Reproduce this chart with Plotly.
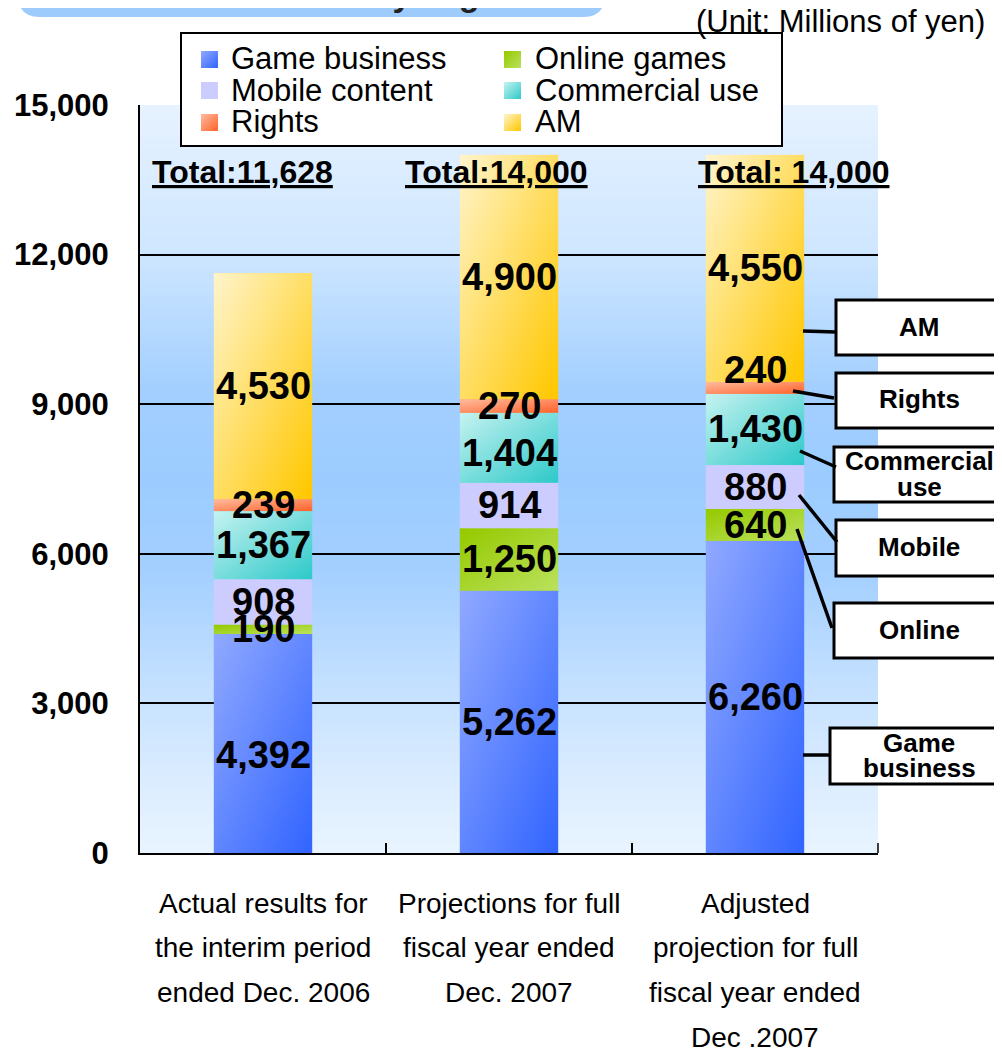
import base64
import struct
import zlib

import plotly.graph_objects as go

# ---------------- data ----------------
categories = [
    "Actual results for<br>the interim period<br>ended Dec. 2006",
    "Projections for full<br>fiscal year ended<br>Dec. 2007",
    "Adjusted<br>projection for full<br>fiscal year ended<br>Dec .2007",
]
segments = ["Game business", "Online games", "Mobile content",
            "Commercial use", "Rights", "AM"]
game_business = [4392, 5262, 6260]
online_games = [190, 1250, 640]
mobile_content = [908, 914, 880]
commercial_use = [1367, 1404, 1430]
rights = [239, 270, 240]
am = [4530, 4900, 4550]
total_labels = ["Total:11,628", "Total:14,000", "Total: 14,000"]
y_ticks = [0, 3000, 6000, 9000, 12000, 15000]
callout_lines = [["AM"], ["Rights"], ["Commercial", "use"], ["Mobile"],
                 ["Online"], ["Game", "business"]]

series_values = [game_business, online_games, mobile_content,
                 commercial_use, rights, am]
colors = ["#6688FF", "#A8D430", "#CCCCFF", "#74D8D6", "#FF8D66", "#FFDF80"]
# gradient end colours (light top-left -> dark bottom-right)
grad = [((143, 168, 255), (51, 102, 255)),
        ((150, 202, 0), (186, 225, 92)),
        ((204, 204, 255), (204, 204, 255)),
        ((195, 242, 240), (48, 202, 202)),
        ((255, 186, 156), (255, 100, 45)),
        ((255, 244, 200), (255, 200, 0))]

# ---------------- geometry helpers (page pixels) ----------------
OFF = 8                      # page body margin
W, H = 1002 - OFF, 1051 - OFF
L, R, T, B = 140, 878, 105, 853
BAR_W = 0.4


def px(xp):
    return (xp - L) / (R - L)


def py(yp):
    return (B - yp) / (B - T)


def make_png(w, h, fn):
    raw = b""
    for yy in range(h):
        raw += b"\x00"
        for xx in range(w):
            raw += bytes(fn(xx, yy))

    def chunk(tag, data):
        return (struct.pack(">I", len(data)) + tag + data +
                struct.pack(">I", zlib.crc32(tag + data) & 0xFFFFFFFF))

    png = (b"\x89PNG\r\n\x1a\n" +
           chunk(b"IHDR", struct.pack(">IIBBBBB", w, h, 8, 2, 0, 0, 0)) +
           chunk(b"IDAT", zlib.compress(raw)) + chunk(b"IEND", b""))
    return "data:image/png;base64," + base64.b64encode(png).decode()


def lerp(c0, c1, f):
    return [round(c0[k] + (c1[k] - c0[k]) * f) for k in range(3)]


def vertical_png(stops, n=300):
    def fn(xx, yy):
        t = yy / (n - 1)
        for j in range(len(stops) - 1):
            t0, c0 = stops[j]
            t1, c1 = stops[j + 1]
            if t0 <= t <= t1:
                return lerp(c0, c1, 0 if t1 == t0 else (t - t0) / (t1 - t0))
        return stops[-1][1]
    return make_png(2, n, fn)


def diagonal_png(c0, c1, n=24):
    return make_png(n, n, lambda xx, yy: lerp(c0, c1, (xx + yy) / (2 * (n - 1))))


bg_stops = [
    (0.00, (230, 242, 255)),
    (0.20, (206, 230, 255)),
    (0.38, (163, 207, 255)),
    (0.50, (156, 204, 255)),
    (0.62, (163, 207, 255)),
    (0.80, (201, 227, 255)),
    (0.92, (222, 238, 255)),
    (1.00, (232, 244, 255)),
]

FONT = "Liberation Sans, Arial, sans-serif"

fig = go.Figure()
for name, vals, col in zip(segments, series_values, colors):
    fig.add_bar(
        x=categories, y=vals, name=name,
        marker=dict(color=col, line=dict(width=0)),
        hoverinfo="name+y", showlegend=False,
    )

shapes = []
annotations = []
images = [dict(source=vertical_png(bg_stops), xref="paper", yref="paper",
               x=0, y=1, sizex=1, sizey=1, sizing="stretch",
               xanchor="left", yanchor="top", layer="below")]
grad_src = [diagonal_png(a, b) for a, b in grad]

# gradient skin on each stacked segment + value labels on top
label_shift = {(0, 0): -12, (2, 4): 18, (1, 3): -5}
base = [0, 0, 0]
for s, vals in enumerate(series_values):
    for i, v in enumerate(vals):
        images.append(dict(source=grad_src[s], xref="x", yref="y",
                           x=i - BAR_W / 2, y=base[i] + v, sizex=BAR_W,
                           sizey=v, sizing="stretch", xanchor="left",
                           yanchor="top", layer="above"))
        annotations.append(dict(
            x=i, y=base[i] + v / 2, xref="x", yref="y",
            text=f"{v:,}", showarrow=False, xanchor="center",
            yanchor="middle", yshift=label_shift.get((i, s), 0),
            font=dict(family=FONT, size=38, color="black", weight="bold")))
        base[i] += v

# totals
total_offsets = [-0.085, -0.05, 0.155]
for i, (lab, off) in enumerate(zip(total_labels, total_offsets)):
    annotations.append(dict(
        x=i + off, y=13650, xref="x", yref="y", text="<u>" + lab + "</u>",
        showarrow=False, xanchor="center", yanchor="middle",
        font=dict(family=FONT, size=32, color="black", weight="bold")))

# category labels (one annotation per line)
for i, cat in enumerate(categories):
    for k, ln in enumerate(cat.split("<br>")):
        annotations.append(dict(
            x=i, y=py(903 + 44.7 * k), xref="x", yref="paper", text=ln,
            showarrow=False, xanchor="center", yanchor="middle",
            font=dict(family=FONT, size=28, color="black")))

# unit text
annotations.append(dict(
    x=px(987), y=py(21), xref="paper", yref="paper",
    text="(Unit: Millions of yen)", showarrow=False,
    xanchor="right", yanchor="middle",
    font=dict(family=FONT, size=31, color="black")))

# title band at top (mostly cropped)
r = 22
pts = {"a": (18, -40), "b": (18, 17 - r), "c": (18, 17), "d": (18 + r, 17),
       "e": (605 - r, 17), "f": (605, 17), "g": (605, 17 - r),
       "h": (605, -40)}
P = {k: "%.5f,%.5f" % (px(v[0]), py(v[1])) for k, v in pts.items()}
path = (f"M{P['a']} L{P['b']} Q{P['c']} {P['d']} L{P['e']} "
        f"Q{P['f']} {P['g']} L{P['h']} Z")
shapes.append(dict(type="path", xref="paper", yref="paper", path=path,
                   fillcolor="#9CCBFC", line=dict(width=0), layer="above"))
annotations.append(dict(
    x=px(563), y=py(-6), xref="paper", yref="paper",
    text="Net sales breakdown by segment", showarrow=False,
    xanchor="right", yanchor="middle",
    font=dict(family=FONT, size=34, color="#222222", weight="bold")))

# closing tick at the right end of the category axis
shapes.append(dict(type="line", xref="paper", yref="paper",
                   x0=1, x1=1, y0=0, y1=py(B - 10),
                   line=dict(color="black", width=1.5)))

# legend (manual, two columns)
shapes.append(dict(type="rect", xref="paper", yref="paper",
                   x0=px(181), x1=px(782), y0=py(146), y1=py(33),
                   fillcolor="white", line=dict(color="black", width=2),
                   layer="below"))
col_sq = [201, 504]
col_tx = [229, 533]
row_y = [59, 90, 122]
for idx, name in enumerate(segments):
    rr, cc = divmod(idx, 2)
    cy = row_y[rr]
    images.append(dict(source=grad_src[idx], xref="paper", yref="paper",
                       x=px(col_sq[cc]), y=py(cy - 8),
                       sizex=px(col_sq[cc] + 17) - px(col_sq[cc]),
                       sizey=py(cy - 8) - py(cy + 9), sizing="stretch",
                       xanchor="left", yanchor="top", layer="above"))
    annotations.append(dict(
        x=px(col_tx[cc]), y=py(cy), xref="paper", yref="paper", text=name,
        showarrow=False, xanchor="left", yanchor="middle",
        font=dict(family=FONT, size=31, color="black")))

# callout boxes
boxes = [(836, 300, 355), (836, 373, 428), (834, 447, 502),
         (836, 520, 576), (834, 603, 658), (830, 728, 784)]
text_y = [[327], [399], [461, 487], [547], [630], [743, 768]]
for (x0, y0, y1), lines, ys in zip(boxes, callout_lines, text_y):
    shapes.append(dict(type="rect", xref="paper", yref="paper",
                       x0=px(x0), x1=px(1012), y0=py(y1), y1=py(y0),
                       fillcolor="white", line=dict(color="black", width=3)))
    for ln, yy in zip(lines, ys):
        annotations.append(dict(
            x=px(919), y=py(yy), xref="paper", yref="paper", text=ln,
            showarrow=False, xanchor="center", yanchor="middle",
            font=dict(family=FONT, size=26, color="black", weight="bold")))

connectors = [((803, 331), (836, 332)), ((793, 391), (834, 398)),
              ((800, 451), (836, 467)), ((799, 495), (837, 542)),
              ((797, 529), (832, 628)), ((803, 755), (830, 755))]
for (a, b) in connectors:
    shapes.append(dict(type="line", xref="paper", yref="paper",
                       x0=px(a[0]), y0=py(a[1]), x1=px(b[0]), y1=py(b[1]),
                       line=dict(color="black", width=3.5)))

fig.update_layout(
    width=W, height=H,
    margin=dict(l=L - OFF, r=W - (R - OFF), t=T - OFF, b=H - (B - OFF),
                pad=0, autoexpand=False),
    paper_bgcolor="white", plot_bgcolor="rgba(0,0,0,0)",
    barmode="stack", bargap=0.6,
    showlegend=False,
    images=images,
    shapes=shapes,
    annotations=annotations,
    xaxis=dict(type="category", range=[-0.5, 2.5], autorange=False,
               showline=True, linecolor="black", linewidth=2,
               ticks="inside", tickson="boundaries", ticklen=10,
               tickwidth=1.5, tickcolor="black", showgrid=False,
               automargin=False, showticklabels=False),
    yaxis=dict(range=[0, 15000], autorange=False, tickvals=y_ticks,
               tickformat=",",
               showline=True, linecolor="black", linewidth=2,
               showgrid=True, gridcolor="black", gridwidth=1.5,
               zeroline=False, ticks="", automargin=False,
               tickfont=dict(family=FONT, size=31, color="black",
                             weight="bold"),
               ticklabelstandoff=23),
)

fig.write_html("out.html")
